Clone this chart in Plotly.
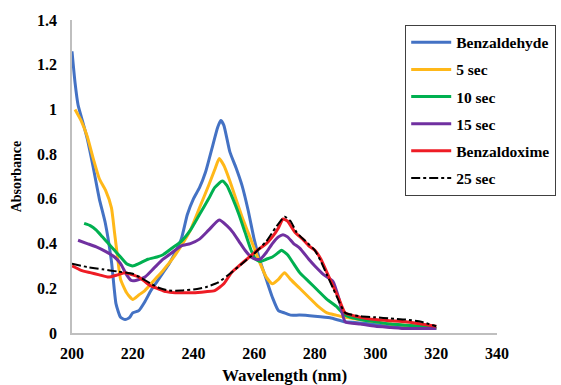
import plotly.graph_objects as go

names = ["Benzaldehyde", "5 sec", "10 sec", "15 sec", "Benzaldoxime", "25 sec"]

x_benzaldehyde = [200, 201, 202, 203, 205, 207, 209, 211, 213, 214.5, 216, 217.5, 219, 220, 222, 224, 226, 228, 230, 232, 234, 236, 238, 240, 242, 244, 246, 248, 249, 250, 252, 254, 256, 258, 260, 262, 264, 266, 268, 270, 272, 275, 280, 285, 290, 295, 300, 305, 310, 315, 320]
y_benzaldehyde = [1.26, 1.12, 1.02, 0.97, 0.87, 0.74, 0.6, 0.49, 0.32, 0.13, 0.07, 0.06, 0.07, 0.09, 0.1, 0.14, 0.19, 0.23, 0.27, 0.31, 0.36, 0.42, 0.53, 0.6, 0.65, 0.72, 0.82, 0.92, 0.95, 0.93, 0.81, 0.74, 0.66, 0.55, 0.42, 0.32, 0.24, 0.16, 0.1, 0.09, 0.08, 0.08, 0.075, 0.068, 0.05, 0.045, 0.04, 0.035, 0.03, 0.025, 0.02]

x_5sec = [201, 203, 205, 207, 209, 211, 213, 214, 215, 216, 218, 220, 222, 224, 226, 228, 230, 233, 236, 239, 242, 245, 247, 248.5, 250, 252, 254, 256, 258, 260, 262, 264, 266, 268, 270, 272, 275, 278, 281, 284, 287, 290, 295, 300, 305, 310, 315, 320]
y_5sec = [1.0, 0.95, 0.88, 0.78, 0.69, 0.64, 0.56, 0.45, 0.34, 0.24, 0.18, 0.15, 0.17, 0.19, 0.22, 0.25, 0.28, 0.33, 0.39, 0.46, 0.56, 0.66, 0.73, 0.78, 0.75, 0.68, 0.6, 0.52, 0.45, 0.38, 0.31, 0.25, 0.22, 0.24, 0.27, 0.24, 0.2, 0.16, 0.12, 0.09, 0.08, 0.07, 0.06, 0.05, 0.04, 0.035, 0.03, 0.02]

x_10sec = [204, 206, 208, 210, 212, 214, 216, 218, 220, 222, 225, 228, 230, 233, 236, 239, 242, 245, 247, 249.5, 251, 253, 255, 257, 259, 260.5, 262, 264, 266, 268, 269, 271, 273, 275, 278, 281, 284, 287, 290, 295, 300, 305, 310, 315, 320]
y_10sec = [0.49, 0.48, 0.46, 0.43, 0.4, 0.37, 0.34, 0.31, 0.3, 0.31, 0.33, 0.34, 0.35, 0.38, 0.41, 0.46, 0.53, 0.6, 0.65, 0.68, 0.66, 0.6, 0.53, 0.45, 0.37, 0.33, 0.32, 0.33, 0.34, 0.36, 0.37, 0.35, 0.31, 0.27, 0.23, 0.19, 0.15, 0.12, 0.08, 0.06, 0.05, 0.04, 0.035, 0.03, 0.02]

x_15sec = [202, 205, 208, 211, 214, 216, 218, 219.5, 221, 224, 227, 230, 233, 236, 239, 242, 245, 248.5, 251, 253, 255, 257, 259, 260.5, 262, 264, 266, 268, 269.5, 271, 273, 275, 278, 280, 283, 286, 288, 290, 295, 300, 305, 310, 315, 320]
y_15sec = [0.415, 0.4, 0.385, 0.365, 0.34, 0.31, 0.26, 0.235, 0.235, 0.25, 0.29, 0.33, 0.36, 0.39, 0.4, 0.42, 0.46, 0.505, 0.48, 0.45, 0.41, 0.37, 0.34, 0.33, 0.33, 0.36, 0.4, 0.43, 0.44, 0.43, 0.4, 0.38, 0.33, 0.3, 0.26, 0.23, 0.15, 0.05, 0.04, 0.03, 0.025, 0.02, 0.02, 0.02]

x_benzaldoxime = [200, 203, 206, 209, 212, 215, 217.5, 220, 222, 224, 226, 228, 231, 234, 237, 240, 244, 247, 250, 252.5, 255, 258, 261, 264, 266, 268, 269.5, 271, 273.5, 276, 278, 280, 282, 284, 286, 288, 290, 295, 300, 305, 310, 315, 320]
y_benzaldoxime = [0.3, 0.28, 0.27, 0.26, 0.25, 0.26, 0.27, 0.26, 0.25, 0.23, 0.21, 0.2, 0.185, 0.18, 0.18, 0.18, 0.185, 0.19, 0.22, 0.27, 0.3, 0.335, 0.37, 0.4, 0.43, 0.47, 0.51, 0.5, 0.45, 0.42, 0.39, 0.37, 0.33, 0.27, 0.21, 0.15, 0.09, 0.07, 0.06, 0.055, 0.05, 0.04, 0.03]

x_25sec = [200, 205, 210, 215, 220, 223, 226, 229, 232, 236, 240, 244, 248, 252, 256, 260, 264, 267, 270, 272, 274, 277, 280, 282, 284, 286, 288, 290, 295, 300, 305, 310, 315, 320]
y_25sec = [0.31, 0.295, 0.285, 0.275, 0.265, 0.245, 0.22, 0.2, 0.19, 0.19, 0.195, 0.205, 0.225, 0.265, 0.31, 0.355, 0.41, 0.47, 0.52, 0.5, 0.45, 0.41, 0.37, 0.32, 0.26, 0.2, 0.14, 0.09, 0.075, 0.07, 0.065, 0.06, 0.05, 0.03]

x_ticks = [200, 220, 240, 260, 280, 300, 320, 340]
y_ticks = [0, 0.2, 0.4, 0.6, 0.8, 1, 1.2, 1.4]
y_ticktext = ["0", "0.2", "0.4", "0.6", "0.8", "1", "1.2", "1.4"]

series = [
    (x_benzaldehyde, y_benzaldehyde, "#4472C4", 3, "solid"),
    (x_5sec, y_5sec, "#FFB819", 3, "solid"),
    (x_10sec, y_10sec, "#00B050", 3, "solid"),
    (x_15sec, y_15sec, "#7030A0", 3, "solid"),
    (x_benzaldoxime, y_benzaldoxime, "#EE1C25", 3, "solid"),
    (x_25sec, y_25sec, "#000000", 2, "dashdot"),
]

font_family = "Liberation Serif, Times New Roman, serif"

fig = go.Figure()
for i, (xs, ys, color, w, dash) in enumerate(series):
    fig.add_trace(go.Scatter(
        x=xs, y=ys, mode="lines", name="<b>%s</b>" % names[i],
        line=dict(color=color, width=w, dash=dash, shape="spline", smoothing=0.5),
        legendgroup="g%d" % i,
    ))

fig.update_layout(
    width=561, height=385,
    margin=dict(l=72, r=64, t=20, b=52, autoexpand=False),
    paper_bgcolor="white", plot_bgcolor="white",
    font=dict(family=font_family, color="black"),
    showlegend=True,
    legend=dict(
        x=0.784, y=0.985, xanchor="left", yanchor="top",
        bordercolor="#404040", borderwidth=1,
        font=dict(family=font_family, size=15.5, color="black"),
        tracegroupgap=4, itemwidth=40,
        bgcolor="white",
    ),
    xaxis=dict(
        range=[200, 340], tickvals=x_ticks, ticktext=["<b>%d</b>" % v for v in x_ticks],
        showgrid=False, zeroline=False, automargin=False,
        showline=True, linecolor="#BFBFBF", linewidth=1.5,
        ticks="outside", ticklen=5, tickcolor="rgba(0,0,0,0)",
        tickfont=dict(family=font_family, size=16, color="black"),
        title=dict(text="<b>Wavelength (nm)</b>", font=dict(family=font_family, size=17), standoff=8),
    ),
    yaxis=dict(
        range=[0, 1.4], tickvals=y_ticks, ticktext=["<b>%s</b>" % t for t in y_ticktext],
        showgrid=False, zeroline=False, automargin=False,
        showline=True, linecolor="#BFBFBF", linewidth=1.5,
        ticks="outside", ticklen=10, tickcolor="rgba(0,0,0,0)",
        tickfont=dict(family=font_family, size=16, color="black"),
        title=dict(text="<b>Absorbance</b>", font=dict(family=font_family, size=14), standoff=12),
    ),
)

fig.write_html("out.html")
